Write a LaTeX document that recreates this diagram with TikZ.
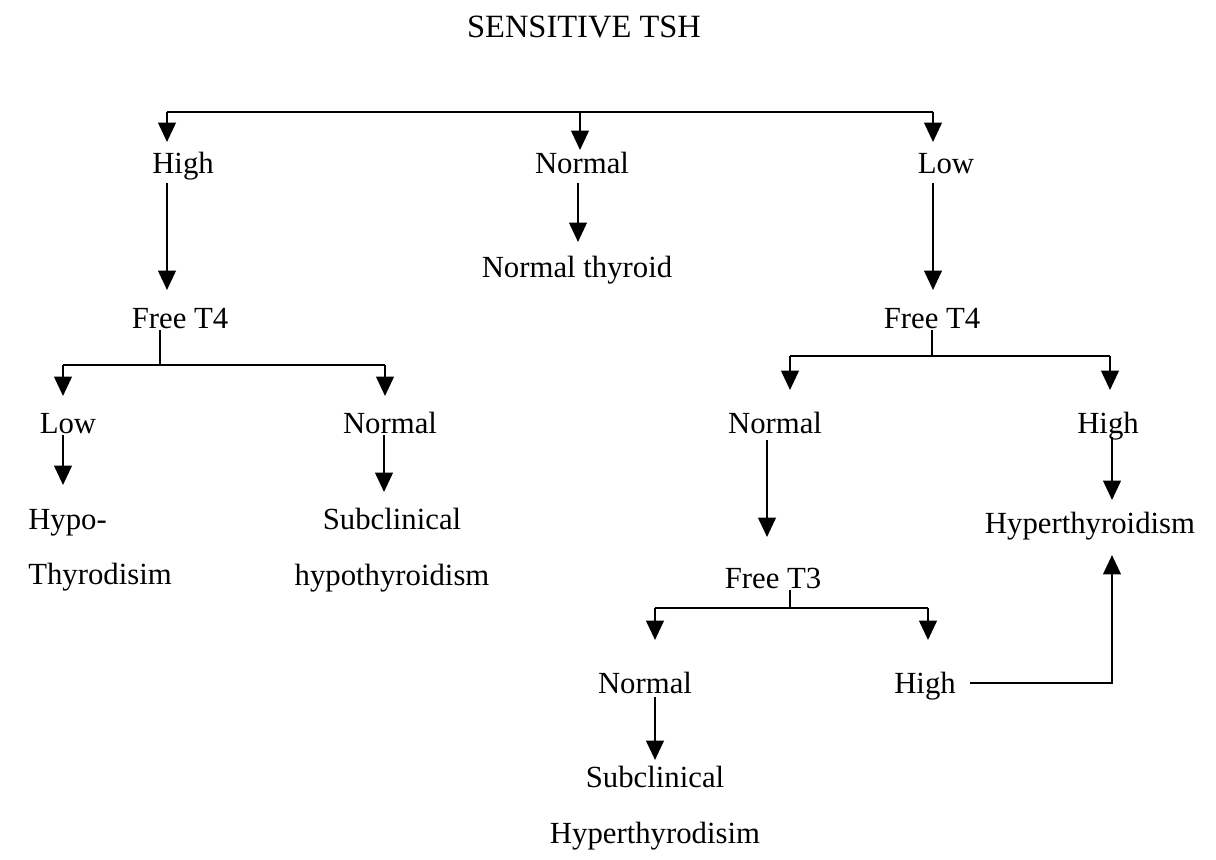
\documentclass[tikz,border=0pt]{standalone}
\usepackage{fontspec}
\setmainfont{Liberation Serif}
\usetikzlibrary{arrows.meta,calc}
\begin{document}
\begin{tikzpicture}[x=0.02cm,y=-0.02cm,
  lbl/.style={font=\fontsize{17.5}{31.5}\selectfont,inner sep=0pt,align=center},
  one/.style={lbl,text height=12.5pt,text depth=0pt},
  ln/.style={line width=1.3pt},
  arr/.style={ln,-{Triangle[width=10pt,length=11pt]}}]
\useasboundingbox(0,0)rectangle(1216,859);
\node[one,font=\fontsize{18.5}{31.5}\selectfont](tsh)at(584,27){SENSITIVE TSH};
% first level
\node[one](high)at(183,163){High};
\node[one](normal)at(582,163){Normal};
\node[one](low)at(946,163){Low};
\node[one](ft4a)at(180,318){Free T4};
\node[one](thyroid)at(577,267){Normal thyroid};
\node[one](ft4b)at(932,318){Free T4};
% left branch
\node[one](lowa)at(68,423){Low};
\node[one](norma)at(390,423){Normal};
\node[lbl,align=left](hypo)at(100,550){Hypo-\\Thyrodisim};
\node[lbl](subhypo)at(392,550){Subclinical\\hypothyroidism};
% right branch
\node[one](normb)at(775,423){Normal};
\node[one](highb)at(1108,423){High};
\node[one](hyper)at(1090,523){Hyperthyroidism};
\node[one](ft3)at(773,578){Free T3};
\node[one](normc)at(645,683){Normal};
\node[one](highc)at(925,683){High};
\node[lbl](subhyper)at(655,808){Subclinical\\Hyperthyrodisim};
% connectors
\draw[ln]($(high)+(-16,-51)$)--($(low)+(-13,-51)$);
\foreach \n/\dx/\dy in {high/-16/-21,normal/-2/-13,low/-13/-21}
  \draw[arr]($(\n)+(\dx,-51)$)--($(\n)+(\dx,\dy)$);
\draw[arr]($(high)+(-16,20)$)--($(ft4a)+(-13,-28)$);
\draw[arr]($(normal)+(-4,20)$)--($(thyroid)+(1,-25)$);
\draw[arr]($(low)+(-13,20)$)--($(ft4b)+(1,-28)$);
\draw[ln]($(ft4a)+(-20,12)$)--($(ft4a)+(-20,47)$);
\draw[ln]($(lowa)+(-5,-58)$)--($(norma)+(-5,-58)$);
\foreach \n in {lowa,norma} \draw[arr]($(\n)+(-5,-58)$)--($(\n)+(-5,-27)$);
\draw[arr]($(lowa)+(-5,12)$)--($(hypo)+(-37,-65)$);
\draw[arr]($(norma)+(-6,12)$)--($(subhypo)+(-8,-58)$);
\draw[ln]($(ft4b)+(0,12)$)--($(ft4b)+(0,38)$);
\draw[ln]($(normb)+(15,-67)$)--($(highb)+(2,-67)$);
\foreach \n/\dx in {normb/15,highb/2} \draw[arr]($(\n)+(\dx,-67)$)--($(\n)+(\dx,-33)$);
\draw[arr]($(normb)+(-8,17)$)--($(ft3)+(-6,-41)$);
\draw[arr]($(highb)+(4,14)$)--($(hyper)+(22,-23)$);
\draw[ln]($(ft3)+(17,12)$)--($(ft3)+(17,30)$);
\draw[ln]($(normc)+(10,-75)$)--($(highc)+(3,-75)$);
\foreach \n/\dx in {normc/10,highc/3} \draw[arr]($(\n)+(\dx,-75)$)--($(\n)+(\dx,-43)$);
\draw[arr]($(highc.east)+(14,0)$)-|($(hyper)+(22,32)$);
\draw[arr]($(normc)+(10,14)$)--($(subhyper)+(0,-48)$);
\end{tikzpicture}
\end{document}
